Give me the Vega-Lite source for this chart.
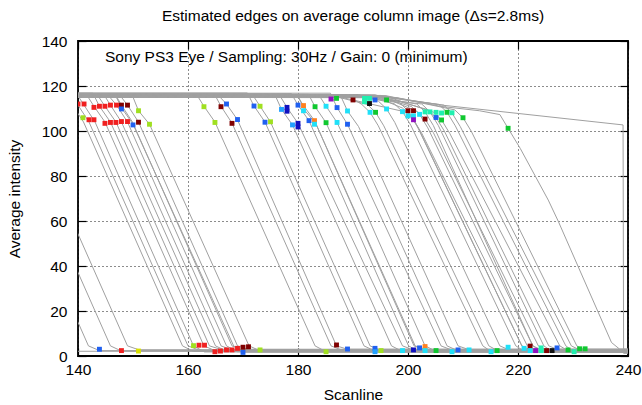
{
"$schema": "https://vega.github.io/schema/vega-lite/v6.json",
"width": 550, "height": 315,
"autosize": {"type": "none"},
"padding": {"left": 78, "top": 41, "right": 14, "bottom": 49},
"title": {"text": "Estimated edges on average column image (Δs=2.8ms)", "fontSize": 15.5, "fontWeight": "normal", "font": "Liberation Sans", "color": "#000", "offset": 10},
"config": {"font": "Liberation Sans", "view": {"stroke": "#000", "strokeWidth": 1.8}},
"resolve": {"axis": {"x": "independent", "y": "independent"}},
"datasets": {
"curves": [
{"c":0,"x":120,"y":30},{"c":0,"x":124,"y":2.1},{"c":0,"x":241,"y":2.1},
{"c":1,"x":120,"y":115.5},{"c":1,"x":120.7,"y":115.5},{"c":1,"x":121.9,"y":111.5},{"c":1,"x":123.9,"y":104},{"c":1,"x":141.9,"y":4.5},{"c":1,"x":143.9,"y":2.4},{"c":1,"x":241,"y":2.4},
{"c":2,"x":120,"y":116},{"c":2,"x":124.7,"y":116},{"c":2,"x":125.9,"y":111.5},{"c":2,"x":127.9,"y":104},{"c":2,"x":145.9,"y":4.5},{"c":2,"x":147.9,"y":2.2},{"c":2,"x":241,"y":2.2},
{"c":3,"x":120,"y":115},{"c":3,"x":127.8,"y":115},{"c":3,"x":129,"y":111.5},{"c":3,"x":131,"y":104},{"c":3,"x":149,"y":4.5},{"c":3,"x":151,"y":2.8},{"c":3,"x":241,"y":2.8},
{"c":4,"x":120,"y":116.5},{"c":4,"x":137.8,"y":116.5},{"c":4,"x":139,"y":111.5},{"c":4,"x":141,"y":104},{"c":4,"x":159,"y":4.5},{"c":4,"x":161,"y":2.0},{"c":4,"x":241,"y":2.0},
{"c":5,"x":120,"y":115.2},{"c":5,"x":138.8,"y":115.2},{"c":5,"x":140,"y":111.5},{"c":5,"x":142,"y":104},{"c":5,"x":160,"y":4.5},{"c":5,"x":162,"y":2.6},{"c":5,"x":241,"y":2.6},
{"c":6,"x":120,"y":116},{"c":6,"x":139.9,"y":116},{"c":6,"x":141.1,"y":111.5},{"c":6,"x":143.1,"y":104},{"c":6,"x":161,"y":4.5},{"c":6,"x":163,"y":1.8},{"c":6,"x":241,"y":1.8},
{"c":7,"x":120,"y":115.6},{"c":7,"x":141.7,"y":115.6},{"c":7,"x":142.9,"y":111},{"c":7,"x":144.9,"y":104},{"c":7,"x":162.9,"y":4.5},{"c":7,"x":164.9,"y":2.4},{"c":7,"x":241,"y":2.4},
{"c":8,"x":120,"y":116.8},{"c":8,"x":142.7,"y":116.8},{"c":8,"x":143.9,"y":111},{"c":8,"x":145.9,"y":104},{"c":8,"x":163.9,"y":4.5},{"c":8,"x":165.9,"y":3.0},{"c":8,"x":241,"y":3.0},
{"c":9,"x":120,"y":115.4},{"c":9,"x":143.7,"y":115.4},{"c":9,"x":144.9,"y":111},{"c":9,"x":146.9,"y":104},{"c":9,"x":165,"y":4.5},{"c":9,"x":167,"y":2.2},{"c":9,"x":241,"y":2.2},
{"c":10,"x":120,"y":116.2},{"c":10,"x":144.7,"y":116.2},{"c":10,"x":145.9,"y":111.5},{"c":10,"x":147.9,"y":104},{"c":10,"x":166,"y":4.5},{"c":10,"x":168,"y":2.7},{"c":10,"x":241,"y":2.7},
{"c":11,"x":120,"y":115},{"c":11,"x":145.8,"y":115},{"c":11,"x":147,"y":111.5},{"c":11,"x":149,"y":104},{"c":11,"x":167,"y":4.5},{"c":11,"x":169,"y":1.9},{"c":11,"x":241,"y":1.9},
{"c":12,"x":120,"y":116.6},{"c":12,"x":146.7,"y":116.6},{"c":12,"x":147.9,"y":111.5},{"c":12,"x":149.9,"y":104},{"c":12,"x":168,"y":4.5},{"c":12,"x":170,"y":2.5},{"c":12,"x":241,"y":2.5},
{"c":13,"x":120,"y":115.8},{"c":13,"x":146.8,"y":115.8},{"c":13,"x":148,"y":110},{"c":13,"x":150,"y":103},{"c":13,"x":168.3,"y":4.5},{"c":13,"x":170.3,"y":1.7},{"c":13,"x":241,"y":1.7},
{"c":14,"x":120,"y":115.3},{"c":14,"x":147.8,"y":115.3},{"c":14,"x":149,"y":111.5},{"c":14,"x":151,"y":104},{"c":14,"x":169,"y":4.5},{"c":14,"x":171,"y":2.9},{"c":14,"x":241,"y":2.9},
{"c":15,"x":120,"y":116.3},{"c":15,"x":149.8,"y":116.3},{"c":15,"x":151,"y":109},{"c":15,"x":153,"y":103},{"c":15,"x":171.1,"y":4.5},{"c":15,"x":173.1,"y":2.3},{"c":15,"x":241,"y":2.3},
{"c":16,"x":120,"y":115.7},{"c":16,"x":161.7,"y":115.7},{"c":16,"x":162.9,"y":111},{"c":16,"x":164.9,"y":104},{"c":16,"x":183.1,"y":4.5},{"c":16,"x":185.1,"y":1.9},{"c":16,"x":241,"y":1.9},
{"c":17,"x":120,"y":116.4},{"c":17,"x":164.8,"y":116.4},{"c":17,"x":166,"y":111},{"c":17,"x":168,"y":103.5},{"c":17,"x":186,"y":4.5},{"c":17,"x":188,"y":2.6},{"c":17,"x":241,"y":2.6},
{"c":18,"x":120,"y":115.1},{"c":18,"x":165.8,"y":115.1},{"c":18,"x":167,"y":112},{"c":18,"x":169,"y":105},{"c":18,"x":187,"y":4.5},{"c":18,"x":189,"y":3.0},{"c":18,"x":241,"y":3.0},
{"c":19,"x":120,"y":116.9},{"c":19,"x":170.8,"y":116.9},{"c":19,"x":172,"y":111.1},{"c":19,"x":174,"y":104},{"c":19,"x":192,"y":4.5},{"c":19,"x":194,"y":2.2},{"c":19,"x":241,"y":2.2},
{"c":20,"x":120,"y":115.5},{"c":20,"x":171.9,"y":115.5},{"c":20,"x":173.1,"y":111},{"c":20,"x":175,"y":104},{"c":20,"x":193.1,"y":4.5},{"c":20,"x":195.1,"y":2.4},{"c":20,"x":241,"y":2.4},
{"c":21,"x":120,"y":116.1},{"c":21,"x":175.8,"y":116.1},{"c":21,"x":177,"y":109.6},{"c":21,"x":179,"y":102.7},{"c":21,"x":197,"y":4.5},{"c":21,"x":199,"y":2.0},{"c":21,"x":241,"y":2.0},
{"c":22,"x":120,"y":115.3},{"c":22,"x":176.8,"y":115.3},{"c":22,"x":178,"y":110.5},{"c":22,"x":180,"y":103.4},{"c":22,"x":199,"y":4.5},{"c":22,"x":201,"y":2.7},{"c":22,"x":241,"y":2.7},
{"c":23,"x":120,"y":116.6},{"c":23,"x":178.8,"y":116.6},{"c":23,"x":180,"y":111.5},{"c":23,"x":182,"y":104.6},{"c":23,"x":200.1,"y":4.5},{"c":23,"x":202.1,"y":1.8},{"c":23,"x":241,"y":1.8},
{"c":24,"x":120,"y":115.9},{"c":24,"x":179.8,"y":115.9},{"c":24,"x":181,"y":111.3},{"c":24,"x":183,"y":104.6},{"c":24,"x":201.1,"y":4.5},{"c":24,"x":203.1,"y":2.5},{"c":24,"x":241,"y":2.5},
{"c":25,"x":120,"y":115},{"c":25,"x":180.1,"y":115},{"c":25,"x":181.3,"y":109},{"c":25,"x":183.3,"y":103},{"c":25,"x":201.3,"y":4.5},{"c":25,"x":203.3,"y":2.9},{"c":25,"x":241,"y":2.9},
{"c":26,"x":120,"y":116.3},{"c":26,"x":181.9,"y":116.3},{"c":26,"x":183.1,"y":110.8},{"c":26,"x":185.1,"y":103.7},{"c":26,"x":203.1,"y":4.5},{"c":26,"x":205.1,"y":2.1},{"c":26,"x":241,"y":2.1},
{"c":27,"x":120,"y":115.6},{"c":27,"x":183.9,"y":115.6},{"c":27,"x":185.1,"y":111},{"c":27,"x":187.1,"y":103.8},{"c":27,"x":206,"y":4.5},{"c":27,"x":208,"y":2.6},{"c":27,"x":241,"y":2.6},
{"c":28,"x":120,"y":116.8},{"c":28,"x":185.9,"y":116.8},{"c":28,"x":187.1,"y":110.4},{"c":28,"x":189,"y":103},{"c":28,"x":207.1,"y":4.5},{"c":28,"x":209.1,"y":2.3},{"c":28,"x":241,"y":2.3},
{"c":29,"x":120,"y":115.4},{"c":29,"x":187.8,"y":115.4},{"c":29,"x":189,"y":108.9},{"c":29,"x":191,"y":102},{"c":29,"x":209.1,"y":4.5},{"c":29,"x":211.1,"y":2.8},{"c":29,"x":241,"y":2.8},
{"c":30,"x":120,"y":116.2},{"c":30,"x":189,"y":115.9},{"c":30,"x":191.6,"y":111.8},{"c":30,"x":193.1,"y":108.3},{"c":30,"x":194.6,"y":102.3},{"c":30,"x":213.6,"y":4.5},{"c":30,"x":215.1,"y":2.0},{"c":30,"x":241,"y":2.0},
{"c":31,"x":120,"y":115.5},{"c":31,"x":187,"y":115.2},{"c":31,"x":192.6,"y":111.8},{"c":31,"x":194.1,"y":108.3},{"c":31,"x":195.6,"y":102.3},{"c":31,"x":214.7,"y":4.5},{"c":31,"x":216.2,"y":2.5},{"c":31,"x":241,"y":2.5},
{"c":32,"x":120,"y":116.5},{"c":32,"x":191,"y":116.2},{"c":32,"x":194.6,"y":113.3},{"c":32,"x":196.1,"y":109.8},{"c":32,"x":197.6,"y":103.8},{"c":32,"x":216.7,"y":4.5},{"c":32,"x":218.2,"y":2.9},{"c":32,"x":241,"y":2.9},
{"c":33,"x":120,"y":115.2},{"c":33,"x":193,"y":114.9},{"c":33,"x":197.5,"y":112.1},{"c":33,"x":199,"y":108.6},{"c":33,"x":200.5,"y":102.6},{"c":33,"x":219.6,"y":4.5},{"c":33,"x":221.1,"y":2.2},{"c":33,"x":241,"y":2.2},
{"c":34,"x":120,"y":116},{"c":34,"x":190,"y":115.7},{"c":34,"x":198.5,"y":112.5},{"c":34,"x":200,"y":109},{"c":34,"x":201.5,"y":103},{"c":34,"x":220.7,"y":4.5},{"c":34,"x":222.2,"y":2.7},{"c":34,"x":241,"y":2.7},
{"c":35,"x":120,"y":115.6},{"c":35,"x":194,"y":115.3},{"c":35,"x":199,"y":110.2},{"c":35,"x":200.5,"y":106.7},{"c":35,"x":202,"y":100.7},{"c":35,"x":220.7,"y":4.5},{"c":35,"x":222.2,"y":1.9},{"c":35,"x":241,"y":1.9},
{"c":36,"x":120,"y":116.3},{"c":36,"x":186,"y":116},{"c":36,"x":199.5,"y":108.5},{"c":36,"x":201,"y":105},{"c":36,"x":202.5,"y":99},{"c":36,"x":221.7,"y":4.5},{"c":36,"x":223.2,"y":2.4},{"c":36,"x":241,"y":2.4},
{"c":37,"x":120,"y":115.3},{"c":37,"x":195,"y":115},{"c":37,"x":200.6,"y":110.9},{"c":37,"x":202.1,"y":107.4},{"c":37,"x":203.6,"y":101.4},{"c":37,"x":222.7,"y":4.5},{"c":37,"x":224.2,"y":2.8},{"c":37,"x":241,"y":2.8},
{"c":38,"x":120,"y":116.1},{"c":38,"x":192,"y":115.8},{"c":38,"x":201.6,"y":112},{"c":38,"x":203.1,"y":108.5},{"c":38,"x":204.6,"y":102.5},{"c":38,"x":222.7,"y":4.5},{"c":38,"x":224.2,"y":2.2},{"c":38,"x":241,"y":2.2},
{"c":39,"x":120,"y":115.8},{"c":39,"x":195,"y":115.5},{"c":39,"x":201.6,"y":108.8},{"c":39,"x":203.1,"y":105.3},{"c":39,"x":204.6,"y":99.3},{"c":39,"x":223.7,"y":4.5},{"c":39,"x":225.2,"y":2.6},{"c":39,"x":241,"y":2.6},
{"c":40,"x":120,"y":115.1},{"c":40,"x":193,"y":114.8},{"c":40,"x":202.5,"y":112},{"c":40,"x":204,"y":108.5},{"c":40,"x":205.5,"y":102.5},{"c":40,"x":224.7,"y":4.5},{"c":40,"x":226.2,"y":2.0},{"c":40,"x":241,"y":2.0},
{"c":41,"x":120,"y":116.4},{"c":41,"x":194,"y":116.1},{"c":41,"x":203.6,"y":109.5},{"c":41,"x":205.1,"y":106},{"c":41,"x":206.6,"y":100},{"c":41,"x":225.6,"y":4.5},{"c":41,"x":227.1,"y":3.0},{"c":41,"x":241,"y":3.0},
{"c":42,"x":120,"y":115.7},{"c":42,"x":196,"y":115.4},{"c":42,"x":204.6,"y":108.4},{"c":42,"x":206.1,"y":104.9},{"c":42,"x":207.6,"y":98.9},{"c":42,"x":227.6,"y":4.5},{"c":42,"x":229.1,"y":2.3},{"c":42,"x":241,"y":2.3},
{"c":43,"x":120,"y":116.2},{"c":43,"x":193,"y":115.9},{"c":43,"x":205.6,"y":111.8},{"c":43,"x":207.1,"y":108.3},{"c":43,"x":208.6,"y":102.3},{"c":43,"x":228.7,"y":4.5},{"c":43,"x":230.2,"y":1.8},{"c":43,"x":241,"y":1.8},
{"c":44,"x":120,"y":115.4},{"c":44,"x":196,"y":115.1},{"c":44,"x":206.5,"y":111.5},{"c":44,"x":208,"y":108},{"c":44,"x":209.5,"y":102},{"c":44,"x":229.7,"y":4.5},{"c":44,"x":231.2,"y":2.7},{"c":44,"x":241,"y":2.7},
{"c":45,"x":120,"y":116},{"c":45,"x":196,"y":115.7},{"c":45,"x":208.5,"y":109.4},{"c":45,"x":210,"y":105.9},{"c":45,"x":211.5,"y":99.9},{"c":45,"x":230.7,"y":4.5},{"c":45,"x":232.2,"y":2.4},{"c":45,"x":241,"y":2.4},
{"c":46,"x":120,"y":116.3},{"c":46,"x":195,"y":115.8},{"c":46,"x":205.8,"y":111.6},{"c":46,"x":239.1,"y":102.7},{"c":46,"x":239.2,"y":1.2},{"c":46,"x":241,"y":1.2},
{"c":47,"x":120,"y":115.5},{"c":47,"x":198,"y":114.8},{"c":47,"x":205.8,"y":111},{"c":47,"x":213,"y":109},{"c":47,"x":216.7,"y":107.3},{"c":47,"x":218.2,"y":101.2},{"c":47,"x":220.4,"y":92.3},{"c":47,"x":225.5,"y":69.3},{"c":47,"x":227.3,"y":60},{"c":47,"x":237,"y":6},{"c":47,"x":238.5,"y":3},{"c":47,"x":241,"y":3}
],
"marks": [
{"x":143.9,"y":3,"k":"blue"},{"x":147.9,"y":2.4,"k":"red"},{"x":151,"y":2.2,"k":"yellow"},
{"x":161,"y":4.6,"k":"yg"},{"x":162,"y":4.8,"k":"red"},{"x":163,"y":4.8,"k":"red"},{"x":164.9,"y":1.9,"k":"red"},{"x":165.9,"y":2.2,"k":"red"},{"x":167,"y":2.7,"k":"red"},{"x":168,"y":2.7,"k":"red"},{"x":169,"y":3.4,"k":"red"},{"x":170,"y":3.9,"k":"darkred"},{"x":171,"y":4.1,"k":"darkred"},{"x":170,"y":1.6,"k":"blue"},{"x":173.1,"y":2.7,"k":"yg"},
{"x":140,"y":112,"k":"red"},{"x":141.1,"y":112,"k":"red"},{"x":140.9,"y":105.9,"k":"yg"},{"x":142,"y":105,"k":"red"},{"x":142.9,"y":105,"k":"red"},{"x":142.9,"y":110.5,"k":"red"},{"x":143.9,"y":111,"k":"red"},{"x":144.9,"y":111,"k":"red"},{"x":145.9,"y":111.5,"k":"red"},{"x":147,"y":111.5,"k":"red"},{"x":147.9,"y":111.5,"k":"darkred"},{"x":149,"y":111.5,"k":"darkred"},{"x":147.9,"y":109.8,"k":"blue"},{"x":151,"y":109,"k":"yg"},{"x":144.9,"y":103.4,"k":"red"},{"x":145.9,"y":103.8,"k":"red"},{"x":146.9,"y":103.8,"k":"red"},{"x":147.9,"y":104.2,"k":"red"},{"x":149,"y":104.2,"k":"red"},{"x":150,"y":102.7,"k":"blue"},{"x":151,"y":103.9,"k":"darkred"},{"x":153,"y":103,"k":"yg"},
{"x":162.9,"y":110.8,"k":"yg"},{"x":166,"y":110.8,"k":"darkred"},{"x":167,"y":112,"k":"blue"},{"x":164.9,"y":103.8,"k":"yg"},{"x":168,"y":103.4,"k":"darkred"},{"x":169,"y":105.1,"k":"blue"},{"x":172,"y":111.1,"k":"blue"},{"x":173.1,"y":111,"k":"yg"},{"x":174,"y":103.9,"k":"blue"},{"x":175,"y":104.1,"k":"yg"},{"x":177,"y":109.6,"k":"lblue"},{"x":178,"y":110.5,"k":"darkblue"},{"x":178,"y":108.8,"k":"darkblue"},{"x":179,"y":102.7,"k":"lblue"},{"x":180,"y":111.5,"k":"blue"},{"x":181,"y":111.3,"k":"orange"},{"x":181,"y":109,"k":"cyan"},{"x":180,"y":103.4,"k":"darkblue"},{"x":180,"y":101.8,"k":"darkblue"},{"x":183.1,"y":110.8,"k":"green"},{"x":182,"y":104.6,"k":"blue"},{"x":183,"y":104.6,"k":"orange"},{"x":183,"y":103,"k":"cyan"},{"x":185.1,"y":111,"k":"cyan"},{"x":185.1,"y":103.7,"k":"green"},{"x":187.1,"y":110.4,"k":"blue"},{"x":187.1,"y":103.8,"k":"cyan"},{"x":189,"y":108.9,"k":"cyan"},{"x":189,"y":103,"k":"blue"},
{"x":186,"y":114.2,"k":"purple"},{"x":187,"y":114.5,"k":"green"},{"x":190,"y":113.8,"k":"darkred"},{"x":192.1,"y":114.5,"k":"teal"},{"x":193,"y":114.5,"k":"teal"},{"x":192.1,"y":113,"k":"teal"},{"x":193,"y":112.2,"k":"black"},{"x":194,"y":113.8,"k":"blue"},{"x":196.1,"y":113.8,"k":"green"},
{"x":193.1,"y":108.3,"k":"cyan"},{"x":194.1,"y":108.3,"k":"green"},{"x":196.1,"y":109.8,"k":"cyan"},{"x":199,"y":108.6,"k":"cyan"},{"x":200,"y":109,"k":"darkred"},{"x":201,"y":109,"k":"darkred"},{"x":200,"y":106.7,"k":"cyan"},{"x":201,"y":106.7,"k":"cyan"},{"x":201,"y":105,"k":"purple"},{"x":202.1,"y":107.4,"k":"cyan"},{"x":203.1,"y":105.3,"k":"darkred"},{"x":203.1,"y":108.5,"k":"teal"},{"x":204,"y":108.5,"k":"teal"},{"x":205.1,"y":108.3,"k":"teal"},{"x":206.1,"y":108,"k":"teal"},{"x":207.1,"y":108.3,"k":"green"},{"x":205.1,"y":106,"k":"blue"},{"x":206.1,"y":104.9,"k":"green"},{"x":208,"y":108.1,"k":"teal"},{"x":210,"y":105.9,"k":"green"},{"x":218.2,"y":101.2,"k":"green"},
{"x":185.1,"y":1.9,"k":"yg"},{"x":187,"y":4.9,"k":"darkred"},{"x":189,"y":3.1,"k":"blue"},{"x":194,"y":3.4,"k":"blue"},{"x":194,"y":1.9,"k":"lblue"},{"x":195.1,"y":2.4,"k":"yg"},{"x":199,"y":2.4,"k":"cyan"},{"x":201,"y":2.7,"k":"darkblue"},{"x":202.1,"y":3.6,"k":"blue"},{"x":203.1,"y":4.2,"k":"orange"},{"x":203.1,"y":2.4,"k":"cyan"},{"x":205.1,"y":2.4,"k":"green"},
{"x":208,"y":1.9,"k":"cyan"},{"x":209.1,"y":2.7,"k":"blue"},{"x":211.1,"y":2.7,"k":"cyan"},{"x":215.1,"y":1.9,"k":"cyan"},{"x":216.2,"y":2.4,"k":"green"},{"x":218.2,"y":3.9,"k":"cyan"},{"x":221.1,"y":3.4,"k":"cyan"},{"x":222.2,"y":4.4,"k":"darkred"},{"x":222.2,"y":2.4,"k":"cyan"},{"x":223.2,"y":2.4,"k":"purple"},{"x":224.2,"y":3.6,"k":"teal"},{"x":224.2,"y":2.4,"k":"teal"},{"x":225.2,"y":2.4,"k":"darkred"},{"x":226.2,"y":2.4,"k":"black"},{"x":227.1,"y":3.6,"k":"blue"},{"x":229.1,"y":2.7,"k":"green"},{"x":230.2,"y":1.9,"k":"teal"},{"x":231.2,"y":3.2,"k":"green"},{"x":232.2,"y":3.2,"k":"green"}
],
"label": [{"x":144.9,"y":132.8,"t":"Sony PS3 Eye / Sampling: 30Hz / Gain: 0 (minimum)"}]
},
"layer": [
{
"data": {"name": "curves"},
"mark": {"type": "line", "color": "#a0a0a0", "strokeWidth": 1, "clip": true},
"encoding": {
"x": {"field": "x", "type": "quantitative", "scale": {"domain": [140, 240], "nice": false, "zero": false},
"axis": {"orient": "bottom", "values": [140,160,180,200,220,240], "tickSize": -8, "tickColor": "#000", "tickWidth": 1.2, "domain": false, "grid": true, "gridColor": "#000", "gridDash": [1,3], "gridOpacity": 0.9, "labelFontSize": 15.5, "labelColor": "#000", "labelPadding": 14, "labelFlush": false, "title": "Scanline", "titleFontSize": 15.5, "titleFontWeight": "normal", "titleColor": "#000", "titlePadding": 10}},
"y": {"field": "y", "type": "quantitative", "scale": {"domain": [0, 140], "nice": false},
"axis": {"orient": "left", "values": [0,20,40,60,80,100,120,140], "tickSize": -8, "tickColor": "#000", "tickWidth": 1.2, "domain": false, "grid": true, "gridColor": "#000", "gridDash": [1,3], "gridOpacity": 0.9, "labelFontSize": 15.5, "labelColor": "#000", "labelPadding": 19, "labelFlush": false, "title": "Average intensity", "titleFontSize": 15.5, "titleFontWeight": "normal", "titleColor": "#000", "titlePadding": 19}},
"detail": {"field": "c", "type": "nominal"}
}
},
{
"data": {"name": "marks"},
"mark": {"type": "point", "shape": "square", "filled": true, "size": 24, "opacity": 1, "clip": true},
"encoding": {
"x": {"field": "x", "type": "quantitative", "axis": null},
"y": {"field": "y", "type": "quantitative", "axis": null},
"color": {"field": "k", "type": "nominal", "legend": null,
"scale": {"domain": ["red","darkred","blue","darkblue","lblue","cyan","teal","green","yg","yellow","orange","purple","black"],
"range": ["#f02020","#800000","#2060f0","#1010c0","#20a0ff","#20e0f8","#20f0b0","#10c830","#a0e020","#d8e000","#ff8020","#9010c0","#101010"]}}
}
},
{
"data": {"name": "label"},
"mark": {"type": "text", "align": "left", "baseline": "middle", "fontSize": 15.5, "color": "#000"},
"encoding": {
"x": {"field": "x", "type": "quantitative", "axis": {"orient": "top", "values": [140,160,180,200,220,240], "tickSize": -8, "tickColor": "#000", "tickWidth": 1.2, "labels": false, "title": null, "grid": false, "domain": false}},
"y": {"field": "y", "type": "quantitative", "axis": {"orient": "right", "values": [0,20,40,60,80,100,120,140], "tickSize": -8, "tickColor": "#000", "tickWidth": 1.2, "labels": false, "title": null, "grid": false, "domain": false}},
"text": {"field": "t", "type": "nominal"}
}
}
]
}
